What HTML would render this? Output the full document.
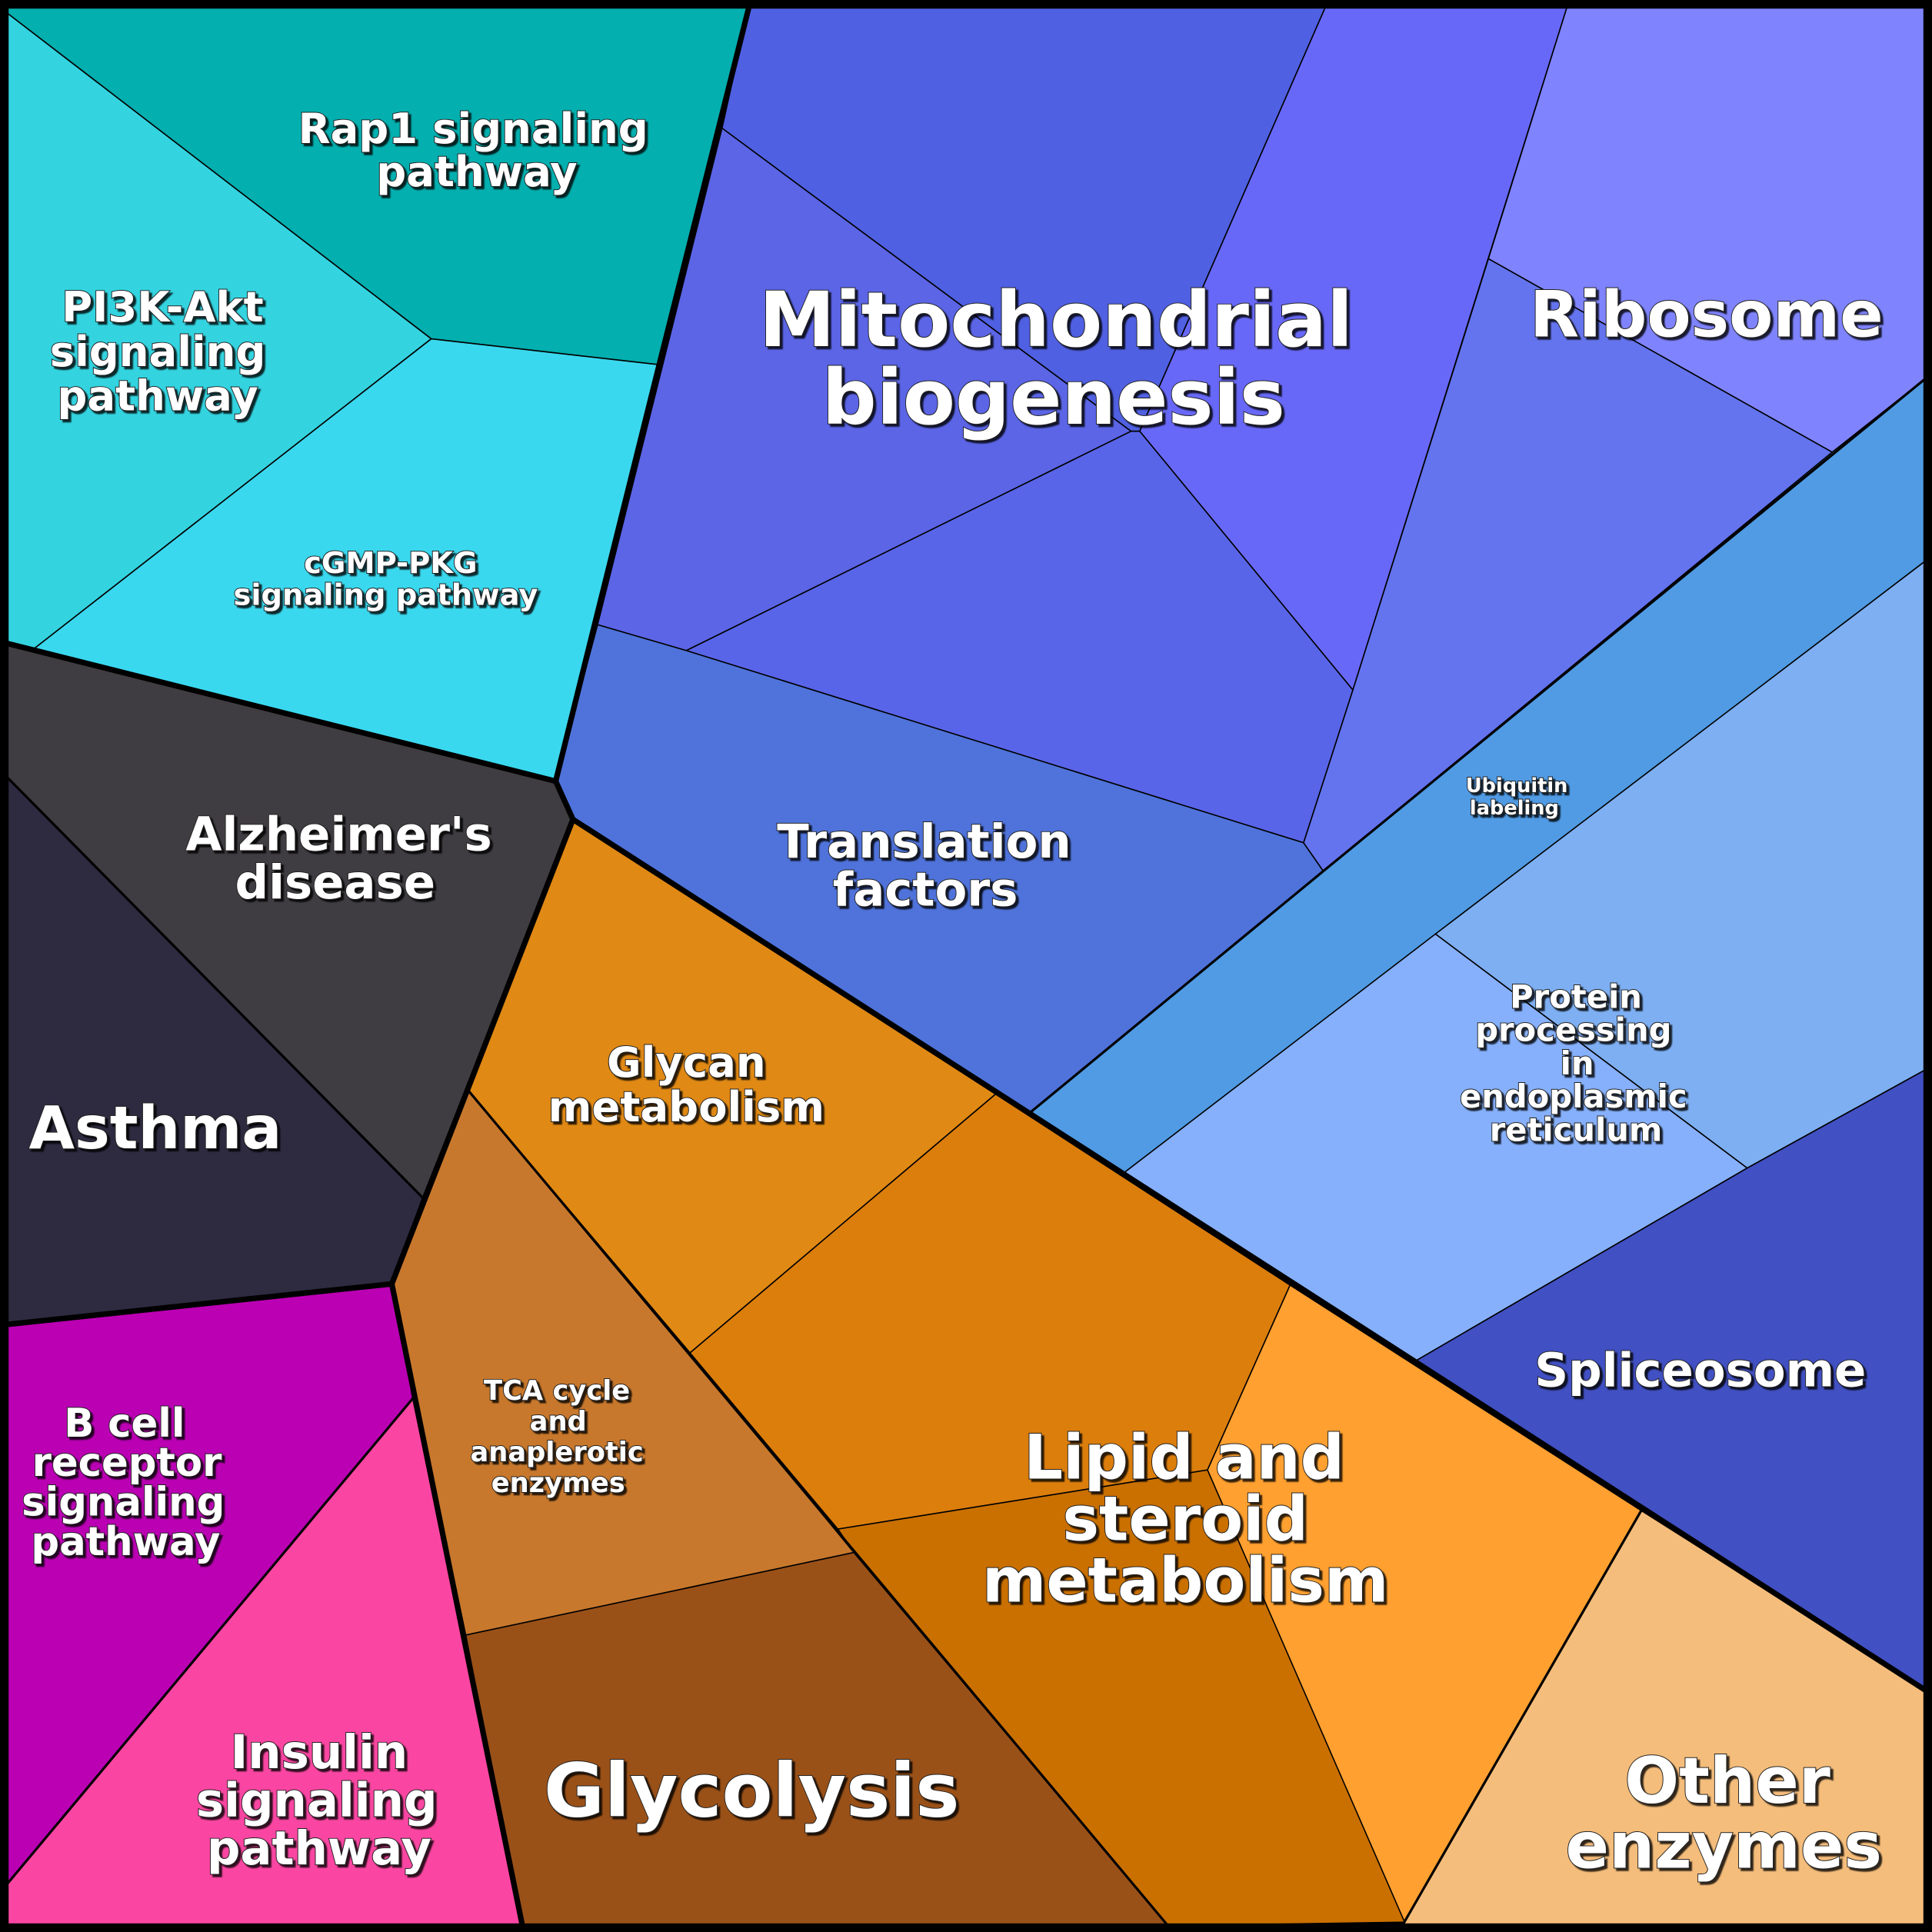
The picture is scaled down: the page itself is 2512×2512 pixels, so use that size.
<!DOCTYPE html>
<html><head><meta charset="utf-8"><style>
html,body{margin:0;padding:0;background:#000;}
svg{display:block;}
text{font-family:"DejaVu Sans","Liberation Sans",sans-serif;font-weight:bold;fill:#fff;text-anchor:middle;paint-order:stroke;stroke:#222;stroke-width:1.2px;}
</style></head><body>
<svg width="2512" height="2512" viewBox="0 0 1568 1568" xmlns="http://www.w3.org/2000/svg">
<defs><filter id="sh" x="-10%" y="-10%" width="120%" height="130%"><feDropShadow dx="2" dy="2" stdDeviation="0.5" flood-color="#000" flood-opacity="0.8"/></filter></defs>
<rect x="0" y="0" width="1568" height="1568" fill="#000"/>
<g stroke="#000" stroke-width="1" stroke-linejoin="round">
<polygon fill="#03AFAF" points="5,5 608,5 535,296 350,275 5,10"/>
<polygon fill="#33D4E0" points="5,10 350,275 27,527 5,522"/>
<polygon fill="#3AD8EE" points="350,275 535,296 451,634 5,522 27,527"/>
<polygon fill="#403D42" points="5,522 451,634 465,665 343,972 5,630"/>
<polygon fill="#2E2A40" points="5,630 343,972 318,1042 5,1075"/>
<polygon fill="#BB00B4" points="5,1075 318,1042 335,1135 5,1530"/>
<polygon fill="#FA46A2" points="335,1135 424,1563 5,1563 5,1530"/>
<polygon fill="#E08914" points="465,665 808,888 560,1098 380,885"/>
<polygon fill="#C8782C" points="380,885 560,1098 693,1260 378,1327 318,1042 343,972"/>
<polygon fill="#9A5118" points="378,1327 693,1260 948,1563 424,1563"/>
<polygon fill="#DC7E0C" points="808,888 1047,1043 980,1193 680,1241 560,1098"/>
<polygon fill="#CA7000" points="680,1241 980,1193 1142,1560 948,1563 693,1260"/>
<polygon fill="#FFA030" points="1047,1043 1332,1226 1140,1560 980,1193"/>
<polygon fill="#F5BD7B" points="1332,1226 1563,1372 1563,1563 1138,1563"/>
<polygon fill="#5060E2" points="608,5 1076,5 925,350 918,350 586,104"/>
<polygon fill="#6868F8" points="1076,5 1272,5 1098,560 925,350"/>
<polygon fill="#5B65E6" points="586,104 918,350 557,528 485,507"/>
<polygon fill="#5965E8" points="918,350 925,350 1098,560 1058,684 557,528"/>
<polygon fill="#4F73DA" points="485,507 557,528 1058,684 1074,707 836,903 465,665 451,634"/>
<polygon fill="#7F84FE" points="1272,5 1563,5 1563,307 1487,367 1208,210"/>
<polygon fill="#6474EE" points="1208,210 1487,367 1074,707 1058,684 1098,560"/>
<polygon fill="#509BE4" points="1563,307 1563,455 912,952 836,903 1074,707 1487,367"/>
<polygon fill="#7EAFF2" points="1563,455 1563,868 1418,948 1165,758"/>
<polygon fill="#86B0FB" points="1165,758 1418,948 1148,1105 912,952"/>
<polygon fill="#4150C2" points="1563,868 1563,1372 1148,1105 1418,948"/>
</g>
<g fill="none" stroke="#000" stroke-width="2">
<polyline points="380,885 948,1563"/>
<polyline points="343,972 5,630"/>
<polyline points="335,1135 5,1530"/>
<polyline points="1332,1226 1138,1563"/>
<polyline points="836,903 1074,707 1563,307"/>
</g>
<g fill="none" stroke="#000" stroke-width="4.5" stroke-linejoin="round">
<polyline points="5,522 451,634 535,296 608,5"/>
<polyline points="451,634 465,665 1563,1372"/>
<polyline points="465,665 318,1042 424,1563"/>
<polyline points="5,1075 318,1042"/>
</g>
<rect x="3.5" y="3.5" width="1561" height="1561" fill="none" stroke="#000" stroke-width="7"/>
<g filter="url(#sh)">
<text font-size="34" x="384" y="116">Rap1 signaling</text>
<text font-size="34" x="387" y="151">pathway</text>
<text font-size="34" x="132" y="261">PI3K-Akt</text>
<text font-size="34" x="128" y="297">signaling</text>
<text font-size="34" x="128" y="333">pathway</text>
<text font-size="24" x="317" y="465">cGMP-PKG</text>
<text font-size="24" x="313" y="491">signaling pathway</text>
<text font-size="62" x="857" y="281">Mitochondrial</text>
<text font-size="62" x="855" y="344">biogenesis</text>
<text font-size="52" x="1385" y="273">Ribosome</text>
<text font-size="38" x="750" y="696">Translation</text>
<text font-size="38" x="751" y="735">factors</text>
<text font-size="16" x="1231" y="643">Ubiquitin</text>
<text font-size="16" x="1229" y="661">labeling</text>
<text font-size="26" x="1279" y="818">Protein</text>
<text font-size="26" x="1277" y="845">processing</text>
<text font-size="26" x="1280" y="872">in</text>
<text font-size="26" x="1277" y="899">endoplasmic</text>
<text font-size="26" x="1279" y="926">reticulum</text>
<text font-size="38" x="275" y="690">Alzheimer's</text>
<text font-size="38" x="272" y="729">disease</text>
<text font-size="48" x="126" y="932">Asthma</text>
<text font-size="34" x="557" y="874">Glycan</text>
<text font-size="34" x="557" y="910">metabolism</text>
<text font-size="22" x="452" y="1136">TCA cycle</text>
<text font-size="22" x="453" y="1161">and</text>
<text font-size="22" x="452" y="1186">anaplerotic</text>
<text font-size="22" x="453" y="1211">enzymes</text>
<text font-size="32" x="101" y="1166">B cell</text>
<text font-size="32" x="103" y="1198">receptor</text>
<text font-size="32" x="100" y="1230">signaling</text>
<text font-size="32" x="102" y="1262">pathway</text>
<text font-size="38" x="259" y="1435">Insulin</text>
<text font-size="38" x="257" y="1474">signaling</text>
<text font-size="38" x="259" y="1513">pathway</text>
<text font-size="60" x="610" y="1474">Glycolysis</text>
<text font-size="50" x="961" y="1200">Lipid and</text>
<text font-size="50" x="962" y="1250">steroid</text>
<text font-size="50" x="962" y="1300">metabolism</text>
<text font-size="38" x="1380" y="1125">Spliceosome</text>
<text font-size="52" x="1402" y="1463">Other</text>
<text font-size="52" x="1399" y="1516">enzymes</text>
</g>
</svg>
</body></html>
